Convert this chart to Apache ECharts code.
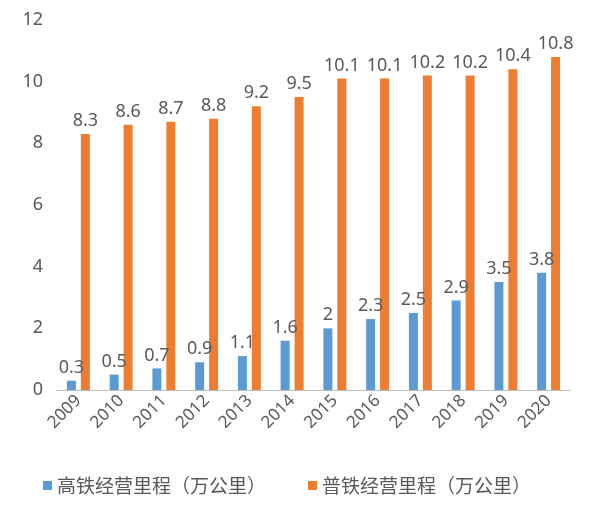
<!DOCTYPE html>
<html><head><meta charset="utf-8">
<script src="https://cdn.jsdelivr.net/npm/echarts@6/dist/echarts.min.js"></script>
<style>html,body{margin:0;padding:0;background:#fff}#c{width:600px;height:510px}</style>
</head><body><div id="c"></div>
<script>
const years=['2009','2010','2011','2012','2013','2014','2015','2016','2017','2018','2019','2020'];
const hsr=[0.3,0.5,0.7,0.9,1.1,1.6,2,2.3,2.5,2.9,3.5,3.8];
const normal=[8.3,8.6,8.7,8.8,9.2,9.5,10.1,10.1,10.2,10.2,10.4,10.8];
const names=['高铁经营里程（万公里）','普铁经营里程（万公里）'];
const ch=echarts.init(document.getElementById('c'));
const lbl={show:true,position:'top',color:'#595959',fontSize:18,distance:4,fontFamily:'Noto Sans'};
ch.setOption({
 animation:false,
 textStyle:{fontFamily:'Noto Sans CJK SC'},
 grid:{left:57,right:30,top:20,bottom:120},
 legend:{bottom:10,left:38,itemWidth:9,itemHeight:9,itemGap:42,textStyle:{fontSize:19,color:'#595959'},icon:'rect'},
 xAxis:{type:'category',data:years,axisTick:{show:false},axisLine:{lineStyle:{color:'#bfbfbf'}},
  axisLabel:{rotate:45,color:'#595959',fontSize:17,fontFamily:'Noto Sans',interval:0}},
 yAxis:{type:'value',min:0,max:12,interval:2,splitLine:{show:false},axisLine:{show:false},axisTick:{show:false},
  axisLabel:{color:'#595959',fontSize:18,fontFamily:'Noto Sans',margin:14}},
 series:[
  {name:names[0],type:'bar',data:hsr,barWidth:9,barGap:'55%',itemStyle:{color:'#5b9bd5'},label:lbl},
  {name:names[1],type:'bar',data:normal,barWidth:9,itemStyle:{color:'#ed7d31'},label:lbl}
 ]
});
</script></body></html>
